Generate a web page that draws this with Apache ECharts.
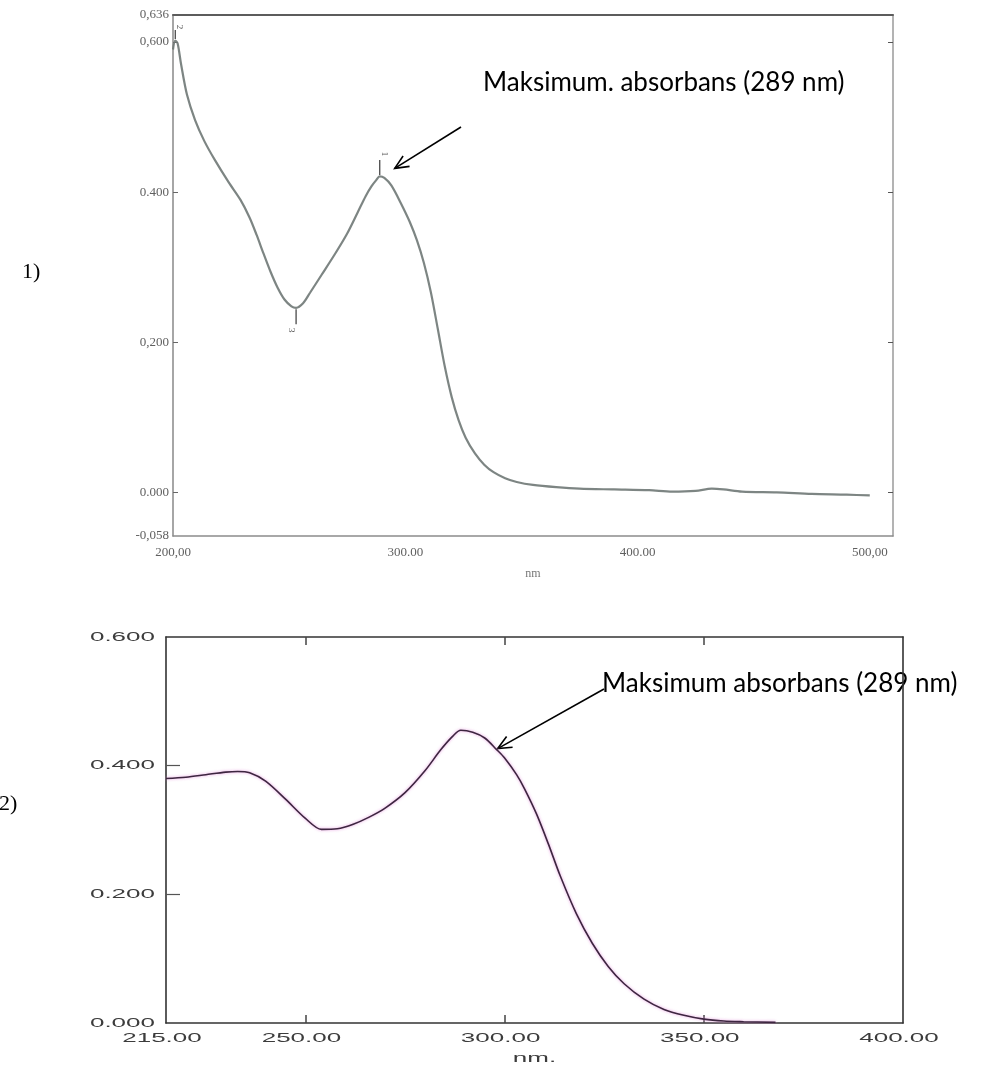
<!DOCTYPE html>
<html>
<head>
<meta charset="utf-8">
<script src="https://cdn.jsdelivr.net/npm/echarts@6/dist/echarts.min.js"></script>
<style>
  html, body { margin: 0; padding: 0; background: #ffffff; }
  #chart { width: 985px; height: 1079px; }
</style>
</head>
<body>
<div id="chart"></div>
<script>
// ---- Spectrum 1 (200–500 nm scan) ----
const wavelength1 = [200, 201, 202, 203.5, 206, 209.5, 213.5, 218, 224, 229, 233, 236, 239, 242, 245, 248, 251, 253, 256, 259, 264, 270, 275, 279.5, 283, 285.5, 287.5, 289, 291, 294, 298, 302, 305, 308, 311, 314, 317, 320, 323, 326, 330, 334, 338, 343, 348, 355, 365, 375, 390, 405, 415, 425, 432, 437, 445, 460, 475, 490, 500];
const absorbance1 = [0.590, 0.602, 0.598, 0.570, 0.530, 0.496, 0.468, 0.443, 0.413, 0.390, 0.366, 0.343, 0.318, 0.294, 0.273, 0.257, 0.248, 0.246, 0.252, 0.266, 0.290, 0.319, 0.345, 0.373, 0.395, 0.408, 0.416, 0.421, 0.419, 0.409, 0.386, 0.360, 0.336, 0.306, 0.267, 0.218, 0.168, 0.127, 0.096, 0.073, 0.052, 0.037, 0.027, 0.019, 0.014, 0.010, 0.007, 0.005, 0.004, 0.003, 0.001, 0.002, 0.005, 0.004, 0.001, 0.000, -0.002, -0.003, -0.004];

// Peak-pick markers printed on spectrum 1
const peakNumbers1 = ['1', '2', '3'];
const peakWavelengths1 = [289, 201, 253];
const peakKinds1 = ['max', 'max', 'min'];

// ---- Spectrum 2 (215–400 nm scan) ----
const wavelength2 = [215, 220, 225, 230, 233, 236, 240, 245, 250, 254, 258, 262, 266, 270, 275, 280, 284, 287, 289, 292, 295, 298, 300, 303, 305, 308, 311, 314, 318, 322, 326, 330, 335, 340, 345, 350, 355, 360, 368];
const absorbance2 = [0.380, 0.382, 0.386, 0.390, 0.391, 0.389, 0.376, 0.348, 0.318, 0.301, 0.302, 0.309, 0.320, 0.334, 0.358, 0.392, 0.425, 0.446, 0.455, 0.452, 0.443, 0.425, 0.412, 0.386, 0.364, 0.325, 0.278, 0.228, 0.170, 0.124, 0.088, 0.061, 0.037, 0.021, 0.012, 0.006, 0.003, 0.002, 0.001];

// ---- Tick labels ----
const xTicks1 = [200, 300, 400, 500];
const xTickLabels1 = ['200,00', '300.00', '400.00', '500,00'];
const yTicks1 = [-0.058, 0, 0.2, 0.4, 0.6, 0.636];
const yTickLabels1 = ['-0,058', '0.000', '0,200', '0.400', '0,600', '0,636'];
const yInnerTicks1 = [0, 0.2, 0.4, 0.6];

const xTicks2 = [215, 250, 300, 350, 400];
const xTickLabels2 = ['215.00', '250.00', '300.00', '350.00', '400.00'];
const xInnerTicks2 = [250, 300, 350];
const yTicks2 = [0, 0.2, 0.4, 0.6];
const yTickLabels2 = ['0.000', '0.200', '0.400', '0.600'];
const yInnerTicks2 = [0.2, 0.4];

// ---- Texts ----
const axisName1 = 'nm';
const axisName2 = 'nm.';
const panelLabels = ['1)', '2)'];
const noteText1 = 'Maksimum. absorbans (289 nm)';
const noteText2 = 'Maksimum absorbans (289 nm)';

// ---------------------------------------------------------------
function labelLookup(ticks, labels) {
  return function (v) {
    let best = 0;
    for (let i = 1; i < ticks.length; i++) {
      if (Math.abs(ticks[i] - v) < Math.abs(ticks[best] - v)) best = i;
    }
    return labels[best];
  };
}
function pairs(xs, ys) { return xs.map((x, i) => [x, ys[i]]); }
function valueAt(xs, ys, x) { return ys[xs.indexOf(x)]; }

const serifFont = '"Liberation Serif", "DejaVu Serif", serif';
const grey1 = '#5f5f5f';

const X1 = { min: 200, max: 510 };
const Y1 = { min: -0.058, max: 0.636 };
const X2 = { min: 215, max: 400 };
const Y2 = { min: 0, max: 0.6 };

const peakMarks = peakNumbers1.map((num, i) => {
  const nm = peakWavelengths1[i];
  const up = peakKinds1[i] === 'max';
  const small = i === 1;
  return {
    coord: [nm, valueAt(wavelength1, absorbance1, nm)],
    symbol: 'rect',
    symbolSize: [1.4, small ? 9 : 15],
    symbolOffset: [0, up ? (small ? -6 : -9) : 9],
    itemStyle: { color: '#555' },
    label: {
      show: true,
      formatter: num,
      position: up ? 'top' : 'bottom',
      distance: small ? 3 : 6,
      rotate: -90,
      color: '#555',
      fontSize: 9,
      fontFamily: serifFont
    }
  };
});

function frameAxis(grid, range, pos, color, width, extra) {
  return Object.assign({
    gridIndex: grid, type: 'value', min: range.min, max: range.max, position: pos,
    axisLine: { show: true, onZero: false, lineStyle: { color: color, width: width } },
    axisTick: { show: false }, axisLabel: { show: false }, splitLine: { show: false }
  }, extra || {});
}

const option = {
  backgroundColor: '#ffffff',
  animation: false,
  grid: [
    { left: 173, top: 15, width: 720, height: 521 },
    { left: 166, top: 637, width: 737, height: 386 }
  ],
  xAxis: [
    frameAxis(0, X1, 'bottom', '#8c8c8c', 1.5, {
      axisLabel: {
        customValues: xTicks1, formatter: labelLookup(xTicks1, xTickLabels1),
        color: grey1, fontFamily: serifFont, fontSize: 13, margin: 10
      },
      name: axisName1, nameLocation: 'middle', nameGap: 32,
      nameTextStyle: { color: '#777', fontFamily: serifFont, fontSize: 12 }
    }),
    frameAxis(0, X1, 'top', '#5c5c5c', 2),
    frameAxis(1, X2, 'bottom', '#333', 1.6, {
      axisTick: { show: true, inside: true, length: 8, customValues: xInnerTicks2, lineStyle: { color: '#444', width: 1.5 } }
    }),
    frameAxis(1, X2, 'top', '#333', 1.6, {
      axisTick: { show: true, inside: true, length: 8, customValues: xInnerTicks2, lineStyle: { color: '#444', width: 1.5 } }
    })
  ],
  yAxis: [
    frameAxis(0, Y1, 'left', '#888', 1.5, {
      axisTick: { show: true, inside: true, length: 5, customValues: yInnerTicks1, lineStyle: { color: '#666' } },
      axisLabel: {
        customValues: yTicks1, formatter: labelLookup(yTicks1, yTickLabels1),
        color: grey1, fontFamily: serifFont, fontSize: 13, margin: 4
      }
    }),
    frameAxis(0, Y1, 'right', '#9a9a9a', 1.5, {
      axisTick: { show: true, inside: true, length: 5, customValues: yInnerTicks1, lineStyle: { color: '#555' } }
    }),
    frameAxis(1, Y2, 'left', '#333', 1.6, {
      axisTick: { show: true, inside: true, length: 14, customValues: yInnerTicks2, lineStyle: { color: '#555', width: 1.2 } }
    }),
    frameAxis(1, Y2, 'right', '#333', 1.6)
  ],
  series: [
    {
      name: 'Spectrum 1', type: 'line', xAxisIndex: 0, yAxisIndex: 0,
      data: pairs(wavelength1, absorbance1),
      smooth: 0.3, showSymbol: false, silent: true,
      lineStyle: { color: '#6f7876', width: 2.2, opacity: 0.9 },
      markPoint: { silent: true, data: peakMarks }
    },
    {
      name: 'Spectrum 2', type: 'line', xAxisIndex: 2, yAxisIndex: 2,
      data: pairs(wavelength2, absorbance2),
      smooth: 0.3, showSymbol: false, silent: true,
      lineStyle: {
        color: '#3d2640', width: 1.6,
        shadowColor: 'rgba(225, 130, 215, 0.85)', shadowBlur: 3
      }
    }
  ]
};

const chart = echarts.init(document.getElementById('chart'), null, { renderer: 'canvas' });
chart.setOption(option);

// ---- Overlay texts and arrows, placed from the axes' own scales ----
const toPx = (grid, pt) => chart.convertToPixel({ gridIndex: grid }, pt);

function arrow(tail, tip) {
  const ang = Math.atan2(tail[1] - tip[1], tail[0] - tip[0]);
  const len = 15, spread = 0.42;
  const a = [tip[0] + len * Math.cos(ang + spread), tip[1] + len * Math.sin(ang + spread)];
  const b = [tip[0] + len * Math.cos(ang - spread), tip[1] + len * Math.sin(ang - spread)];
  const stroke = { stroke: '#000', lineWidth: 1.6, fill: null };
  return [
    { type: 'line', shape: { x1: tail[0], y1: tail[1], x2: tip[0], y2: tip[1] }, style: stroke, silent: true },
    { type: 'polyline', shape: { points: [a, tip, b] }, style: stroke, silent: true }
  ];
}

// stretched print-style labels of the second panel
const wideFont = '13px "Liberation Sans", Arial, sans-serif';
const wide = 2.0;
function wideText(text, x, y, align) {
  return {
    type: 'text', x: x, y: y, scaleX: wide, silent: true,
    style: { text: text, font: wideFont, fill: '#3c3c3c', textAlign: align, textVerticalAlign: 'middle' }
  };
}

const graphics = [];
xTicks2.forEach((v, i) => {
  const p = toPx(1, [v, Y2.min]);
  graphics.push(wideText(xTickLabels2[i], p[0] - 4, p[1] + 15, 'center'));
});
yTicks2.forEach((v, i) => {
  const p = toPx(1, [X2.min, v]);
  graphics.push(wideText(yTickLabels2[i], p[0] - 11, p[1], 'right'));
});
{
  const l = toPx(1, [X2.min, Y2.min]);
  const r = toPx(1, [X2.max, Y2.min]);
  graphics.push(wideText(axisName2, (l[0] + r[0]) / 2, l[1] + 35, 'center'));
}

// panel numbers
graphics.push({ type: 'text', x: 22, y: 272, silent: true,
  style: { text: panelLabels[0], font: '22px ' + serifFont, fill: '#000', textVerticalAlign: 'middle' } });
graphics.push({ type: 'text', x: -1, y: 804, silent: true,
  style: { text: panelLabels[1], font: '22px ' + serifFont, fill: '#000', textVerticalAlign: 'middle' } });

// notes with arrows to the maxima
const noteFont = '26px Lato, "Open Sans", sans-serif';
graphics.push({ type: 'text', x: 483, y: 83, silent: true,
  style: { text: noteText1, font: noteFont, fill: '#000', textVerticalAlign: 'middle' } });
graphics.push({ type: 'text', x: 602, y: 684, silent: true,
  style: { text: noteText2, font: noteFont, fill: '#000', textVerticalAlign: 'middle' } });

const peak1 = toPx(0, [289, valueAt(wavelength1, absorbance1, 289)]);
graphics.push(...arrow([461, 127], [peak1[0] + 15, peak1[1] - 8]));
const peak2 = toPx(1, [298, valueAt(wavelength2, absorbance2, 298)]);
graphics.push(...arrow([604, 689], [peak2[0] + 1, peak2[1] - 1]));

chart.setOption({ graphic: graphics });
</script>
</body>
</html>
